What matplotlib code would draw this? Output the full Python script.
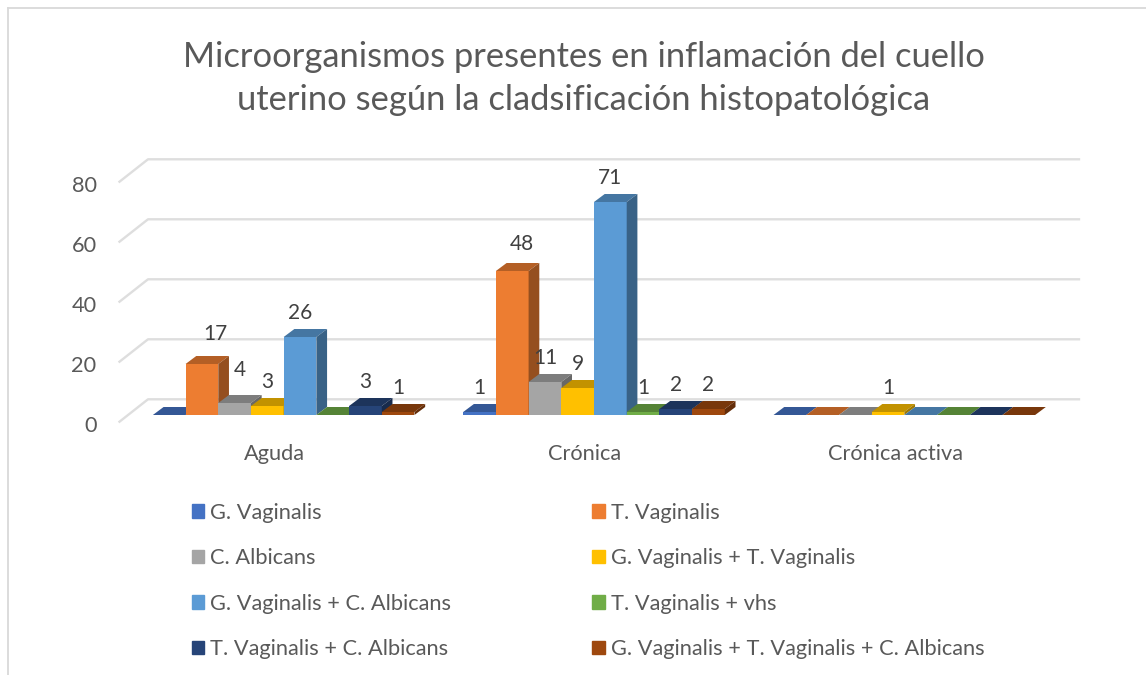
import matplotlib
matplotlib.use("Agg")
import matplotlib.pyplot as plt
from matplotlib.patches import Patch, Polygon
from matplotlib.lines import Line2D
from matplotlib.colors import to_rgb
from matplotlib.transforms import ScaledTranslation

# datos
categorias = ["Aguda", "Crónica", "Crónica activa"]
g_vaginalis = [0, 1, 0]
t_vaginalis = [17, 48, 0]
c_albicans = [4, 11, 0]
gv_tv = [3, 9, 1]
gv_ca = [26, 71, 0]
tv_vhs = [0, 1, 0]
tv_ca = [3, 2, 0]
gv_tv_ca = [1, 2, 0]

series = [g_vaginalis, t_vaginalis, c_albicans, gv_tv, gv_ca, tv_vhs, tv_ca, gv_tv_ca]
nombres = ["G. Vaginalis", "T. Vaginalis", "C. Albicans", "G. Vaginalis + T. Vaginalis",
           "G. Vaginalis + C. Albicans", "T. Vaginalis + vhs", "T. Vaginalis + C. Albicans",
           "G. Vaginalis + T. Vaginalis + C. Albicans"]
colores = ["#4472C4", "#ED7D31", "#A5A5A5", "#FFC000", "#5B9BD5", "#70AD47", "#264478", "#9E480E"]
y_ticks = [0, 20, 40, 60, 80]

W, H = 1146, 675
plt.rcParams["font.family"] = ["Lato", "DejaVu Sans"]

def oscurecer(color, f):
    return tuple(c * f for c in to_rgb(color))

fig = plt.figure(figsize=(W / 100, H / 100), dpi=100)

# marco del grafico (solo arriba e izquierda)
for xs, ys in [((7.5, 7.5), (8, 675)), ((7.5, 1146), (8, 8))]:
    fig.add_artist(Line2D([x / W for x in xs], [1 - y / H for y in ys], color="#D9D9D9", lw=1.3))

izq, der, arriba, abajo = 119.5, 1050.5, 181.7, 421.7
ax = fig.add_axes([izq / W, 1 - abajo / H, (der - izq) / W, (abajo - arriba) / H])
ax.set_xlim(-0.5, 2.5)
ax.set_ylim(0, 80)
ax.patch.set_visible(False)
for s in ax.spines.values():
    s.set_visible(False)

px_x = 3.0 / (der - izq)
px_y = 80 / (abajo - arriba)

# paredes del fondo
fondo_x, fondo_y = 28.5 * px_x, 22.4 * px_y
for v in y_ticks:
    ax.plot([-0.5, -0.5 + fondo_x, 2.5 + fondo_x], [v, v + fondo_y, v + fondo_y],
            color="#DEDEDE", lw=1.7, clip_on=False, zorder=1)

# barras con su profundidad
ancho = 32.7 * px_x
base = 6.7 * px_y
despl = 9 * px_x
prof_x, prof_y = 10.7 * px_x, 8 * px_y
z = 2
for j in range(len(categorias)):
    for i, valores in enumerate(series):
        v = valores[j]
        x0 = j + despl + (i - 4) * ancho
        x1 = x0 + ancho
        top = base + v
        ax.bar(x0, v, ancho, bottom=base, align="edge", color=colores[i], clip_on=False, zorder=z)
        ax.add_patch(Polygon([(x0, top), (x1, top), (x1 + prof_x, top + prof_y), (x0 + prof_x, top + prof_y)],
                             color=oscurecer(colores[i], 0.76), lw=0, clip_on=False, zorder=z))
        ax.add_patch(Polygon([(x1, base), (x1 + prof_x, base + prof_y), (x1 + prof_x, top + prof_y), (x1, top)],
                             color=oscurecer(colores[i], 0.63), lw=0, clip_on=False, zorder=z))
        z += 1

# etiquetas de datos
ajustes = {(1, 0): (13, 6), (2, 0): (5, 9), (1, 1): (10, 3)}
for j in range(len(categorias)):
    for i, valores in enumerate(series):
        if valores[j] == 0:
            continue
        x0 = j + despl + (i - 3.5) * ancho
        dx, dy = ajustes.get((i, j), (0, 0))
        ax.annotate(str(valores[j]), (x0, base + valores[j]), xytext=(dx * 0.72, (24 + dy) * 0.72),
                    textcoords="offset points", ha="center", va="center", fontsize=15,
                    color="#404040", annotation_clip=False, zorder=100)

ax.set_xticks(range(len(categorias)), categorias)
ax.set_yticks(y_ticks)
ax.tick_params(axis="both", length=0, labelsize=15.7, labelcolor="#595959")
ax.tick_params(axis="y", pad=16.5)
ax.tick_params(axis="x", pad=16)
for lab in ax.get_yticklabels():
    lab.set_transform(lab.get_transform() + ScaledTranslation(0, -2 / 100, fig.dpi_scale_trans))

fig.text(584 / W, 1 - 78.5 / H, "Microorganismos presentes en inflamación del cuello\nuterino según la cladsificación histopatológica",
         ha="center", va="center", fontsize=24.8, color="#595959", linespacing=1.43)

# leyenda por filas, matplotlib la llena por columnas
handles = [Patch(color=c, label=n) for c, n in zip(colores, nombres)]
handles = handles[::2] + handles[1::2]
ax.legend(handles=handles, ncol=2, frameon=False, fontsize=15.7, loc="upper left",
          bbox_to_anchor=(172 / W, 1 - 483 / H), bbox_transform=fig.transFigure,
          handlelength=0.58, handleheight=0.58, handletextpad=0.25, labelspacing=1.17,
          columnspacing=6.5, labelcolor="#595959")

fig.savefig("out.png", dpi=100)
